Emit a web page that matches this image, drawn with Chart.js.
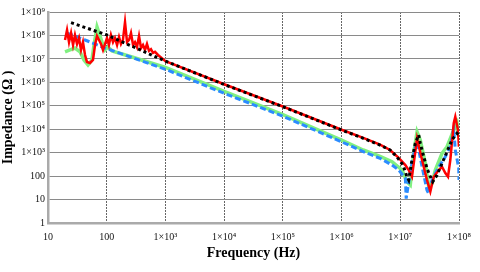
<!DOCTYPE html>
<html>
<head>
<meta charset="utf-8">
<script src="https://cdn.jsdelivr.net/npm/chart.js@4.4.0/dist/chart.umd.min.js"></script>
<style>
  body { margin: 0; background: #fff; }
  #chart { display: block; }
</style>
</head>
<body>
<canvas id="chart" width="480" height="272"></canvas>
<script>
// decade ticks and their labels
var xTicks = [10, 100, 1e3, 1e4, 1e5, 1e6, 1e7, 1e8];
var xTickLabels = ["10", "100", "1×10³", "1×10⁴", "1×10⁵", "1×10⁶", "1×10⁷", "1×10⁸"];
var yTicks = [1, 10, 100, 1e3, 1e4, 1e5, 1e6, 1e7, 1e8, 1e9];
var yTickLabels = ["1", "10", "100", "1×10³", "1×10⁴", "1×10⁵", "1×10⁶", "1×10⁷", "1×10⁸", "1×10⁹"];

// black dotted curve
var blackFreq = [24.7, 100, 1e3, 1e4, 1e5, 1e6, 2.34e6, 4.52e6, 6.7e6, 8.7e6, 1.06e7, 1.14e7, 1.3e7, 1.39e7, 1.58e7, 1.8e7, 2.06e7,
  2.19e7, 2.51e7, 2.85e7, 3.25e7, 3.57e7, 4.23e7, 5.14e7, 6.25e7, 7.6e7, 9.25e7, 9.89e7];
var blackZ = [3.5e8, 1.05e8, 8e6, 8.1e5, 9.1e4, 9.2e3, 4.1e3, 2.1e3, 1.3e3, 670, 350, 250, 94, 68, 485, 2.5e3, 5.7e3,
  2.5e3, 670, 215, 94, 58, 111, 350, 1.1e3, 3.5e3, 6.7e3, 5.7e3];

// red solid curve
var redFreq = [19.5, 21.1, 22.8, 24.7, 26.7, 28.8, 31.2, 33.7, 36.5, 39.4,
  42.7, 46.1, 51.9, 58.4, 63.2, 68.4, 73.9, 80, 86.5, 93.5,
  101, 109, 118, 128, 138, 150, 162, 175, 189, 205,
  222, 240, 259, 281, 303, 328, 355, 384, 415, 449,
  485, 525, 567, 614, 665, 748, 1e3, 1e4, 1e5, 1e6, 2.34e6, 4.52e6,
  6.7e6, 9.4e6, 1.22e7, 1.39e7, 1.58e7, 1.93e7, 2.35e7, 2.85e7, 3.25e7, 3.72e7,
  4.52e7, 5.14e7, 5.85e7, 6.5e7, 7.11e7, 8.13e7, 8.65e7, 9.62e7, 9.97e7];
var redZ = [6.4e7, 1.7e8, 5.2e7, 1.27e8, 3.9e7, 1.04e8, 4.3e7, 7.8e7, 2.4e7, 5.2e7,
  1.47e7, 7.4e6, 6.7e6, 9.0e6, 3.9e7, 9.5e7, 6.4e7, 4.3e7, 2.4e7, 4.3e7,
  7.8e7, 3.9e7, 1.04e8, 5.2e7, 7.8e7, 3.9e7, 8.6e7, 4.3e7, 6.4e7, 3.7e8,
  5.2e7, 6.4e7, 1.27e8, 3.9e7, 5.2e7, 3.2e7, 9.5e7, 2.9e7, 3.9e7, 2.4e7,
  4.3e7, 2.2e7, 2.6e7, 1.8e7, 2.0e7, 1.47e7, 8e6, 8.3e5, 9.3e4, 9.5e3, 4.3e3, 2.2e3,
  1.3e3, 600, 297, 182, 94, 4.0e3, 485, 68, 22, 94,
  182, 250, 135, 94, 485, 1.79e4, 3.41e4, 9.2e3, 1.79e3];

// green solid curve
var greenFreq = [19.5, 23.7, 28.8, 35.1, 41, 48, 56, 60.7, 68.4, 76.9,
  83.2, 93.5, 105, 123, 270, 1e3, 1e4, 1e5, 1e6, 2.34e6, 4.52e6,
  7.23e6, 1.07e7, 1.3e7, 1.48e7, 1.69e7, 1.93e7, 2.19e7, 2.67e7, 3.05e7, 3.47e7,
  3.95e7, 5.14e7, 6.25e7, 8.13e7, 9.25e7, 9.89e7];
var greenZ = [2e7, 2.4e7, 2.9e7, 2e7, 9e6, 5.5e6, 9e6, 3.9e7, 2.3e8, 9.5e7,
  5.2e7, 2.4e7, 3.2e7, 2.2e7, 1.2e7, 4.3e6, 4.1e5, 4.2e4, 3.4e3, 1.3e3, 700,
  410, 182, 58, 42, 940, 7.8e3, 3.5e3, 350, 35, 49,
  182, 940, 1.79e3, 9.2e3, 1.79e4, 4.8e3];

// blue dashed curve
var blueFreq = [21.1, 42.7, 93.5, 1e3, 1e4, 1e5, 1e6, 2.34e6, 4.52e6, 7.23e6, 9.4e6,
  1.22e7, 1.26e7, 1.41e7, 1.58e7, 1.8e7, 1.93e7, 2.35e7, 2.85e7, 3.05e7, 3.47e7,
  4.52e7, 5.85e7, 7.11e7, 8.13e7, 8.65e7, 9.89e7, 1e8];
var blueZ = [1.26e8, 6.4e7, 2.9e7, 3.6e6, 3.4e5, 3.6e4, 2.9e3, 1.1e3, 575, 297, 182,
  80, 11, 68, 350, 1.79e3, 3.0e3, 250, 25, 18, 68,
  250, 670, 1.79e3, 1.09e4, 1.3e3, 215, 68];

function toPoints(freq, z) {
  return freq.map(function (f, i) { return { x: f, y: z[i] }; });
}

var tickFont = { family: "Liberation Serif", size: 10 };
var titleFont = { family: "Liberation Serif", size: 14, weight: "bold" };

const ctx = document.getElementById("chart");
new Chart(ctx, {
  type: "scatter",
  data: {
    datasets: [
      { data: toPoints(blackFreq, blackZ), showLine: true, borderColor: "#000000", borderWidth: 3, borderDash: [3, 3], order: 1 },
      { data: toPoints(redFreq, redZ), showLine: true, borderColor: "#ff0000", borderWidth: 2.5, order: 2 },
      { data: toPoints(blueFreq, blueZ), showLine: true, borderColor: "#2b8cff", borderWidth: 3, borderDash: [6, 3], order: 3 },
      { data: toPoints(greenFreq, greenZ), showLine: true, borderColor: "#80f080", borderWidth: 3.5, order: 4 },
    ],
  },
  options: {
    responsive: false,
    animation: false,
    devicePixelRatio: 1,
    layout: { padding: { top: 12, right: 21, left: 0, bottom: 0 } },
    elements: { point: { radius: 0 }, line: { tension: 0 } },
    plugins: { legend: { display: false }, tooltip: { enabled: false } },
    scales: {
      x: {
        type: "logarithmic",
        min: 10,
        max: 1e8,
        afterBuildTicks: function (scale) {
          scale.ticks = xTicks.map(function (v) { return { value: v }; });
        },
        afterFit: function (scale) { scale.height = 49; },
        ticks: {
          autoSkip: false, maxRotation: 0, padding: 8, color: "#111",
          font: tickFont,
          callback: function (v, i) { return xTickLabels[i]; },
        },
        grid: { color: "#666666", lineWidth: 1, drawTicks: false },
        border: { color: "#aaaaaa", width: 2.5, dash: [2, 1] },
        title: { display: true, text: "Frequency (Hz)", color: "#000", font: titleFont, padding: { top: 0, bottom: 10 } },
      },
      y: {
        type: "logarithmic",
        min: 1,
        max: 1e9,
        afterBuildTicks: function (scale) {
          scale.ticks = yTicks.map(function (v) { return { value: v }; });
        },
        afterFit: function (scale) { scale.width = 48; },
        ticks: {
          autoSkip: false, padding: 3, color: "#111",
          font: tickFont,
          callback: function (v, i) { return yTickLabels[i]; },
        },
        grid: { color: "#8a8a8a", lineWidth: 1, drawTicks: false },
        border: { color: "#aaaaaa", width: 2.5 },
        title: { display: true, text: "Impedance (Ω )", color: "#000", font: titleFont, padding: { top: 0, bottom: 0 } },
      },
    },
  },
});
</script>
</body>
</html>
